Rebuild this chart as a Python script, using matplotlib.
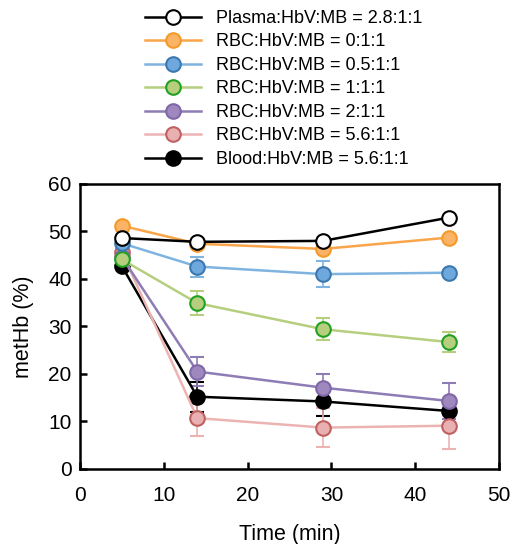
import numpy as np
import matplotlib.pyplot as plt

plt.rcParams['font.family'] = ['Liberation Sans', 'DejaVu Sans']

tiempo = [5, 14, 29, 44]

etiquetas = [
    "Plasma:HbV:MB = 2.8:1:1",
    "RBC:HbV:MB = 0:1:1",
    "RBC:HbV:MB = 0.5:1:1",
    "RBC:HbV:MB = 1:1:1",
    "RBC:HbV:MB = 2:1:1",
    "RBC:HbV:MB = 5.6:1:1",
    "Blood:HbV:MB = 5.6:1:1",
]

plasma = [48.6, 47.8, 48.0, 52.9]
rbc_0 = [51.2, 47.4, 46.3, 48.7]
rbc_05 = [47.5, 42.6, 41.0, 41.3]
rbc_1 = [44.1, 34.9, 29.4, 26.7]
rbc_2 = [44.6, 20.5, 17.1, 14.3]
rbc_56 = [45.7, 10.7, 8.7, 9.1]
sangre = [42.7, 15.2, 14.2, 12.2]

err_plasma = [0.0, 0.0, 0.0, 0.0]
err_rbc_0 = [0.0, 0.0, 0.0, 0.0]
err_rbc_05 = [0.0, 2.1, 2.8, 0.0]
err_rbc_1 = [0.0, 2.6, 2.3, 2.1]
err_rbc_2 = [0.0, 3.0, 2.9, 3.7]
err_rbc_56 = [0.0, 3.7, 4.1, 5.0]
err_sangre = [0.0, 3.2, 3.0, 0.0]

series = [plasma, rbc_0, rbc_05, rbc_1, rbc_2, rbc_56, sangre]
errores = [err_plasma, err_rbc_0, err_rbc_05, err_rbc_1, err_rbc_2, err_rbc_56, err_sangre]

# (linea, relleno, borde)
estilos = [
    ('black', 'white', 'black'),
    ('#F9A54A', '#FBB366', '#F39A2B'),
    ('#7FB3E0', '#6FA8DC', '#3C78B0'),
    ('#B5CF7E', '#B5CF7E', '#22A022'),
    ('#8E7CB5', '#9E88BE', '#8068A8'),
    ('#EDB3B3', '#E8B0B0', '#C06060'),
    ('black', 'black', 'black'),
]

fig = plt.figure(figsize=(5.12, 5.44), dpi=100)
ax = fig.add_axes([0.156, 0.138, 0.819, 0.524])

# orden de dibujo: el ultimo queda encima
orden = [6, 5, 4, 3, 2, 1, 0]
handles = [None] * 7
for i in orden:
    linea, relleno, borde = estilos[i]
    h = ax.errorbar(tiempo, series[i], yerr=errores[i], color=linea, lw=1.8,
                    marker='o', ms=10.5, mfc=relleno, mec=borde, mew=1.5,
                    ecolor=linea, elinewidth=1.2, capsize=5, capthick=1.2,
                    label=etiquetas[i])
    handles[i] = h

ax.set_xlim(0, 50)
ax.set_ylim(0, 60)
ax.set_xticks([0, 10, 20, 30, 40, 50])
ax.set_yticks([0, 10, 20, 30, 40, 50, 60])
ax.tick_params(direction='in', length=5, width=1.8, labelsize=15, pad=12)
ax.tick_params(axis='y', pad=6)
for s in ax.spines.values():
    s.set_linewidth(1.8)
ax.set_xlabel('Time (min)', fontsize=15.5, labelpad=14)
ax.set_ylabel('metHb (%)', fontsize=15.5, labelpad=10)

lineas_leyenda = [h[0] for h in handles]
fig.legend(lineas_leyenda, etiquetas, loc='upper left', bbox_to_anchor=(0.27, 0.995),
           frameon=False, fontsize=13, handlelength=3.1, labelspacing=0.36,
           handletextpad=0.8, borderaxespad=0)

plt.savefig('out.png', dpi=100)
